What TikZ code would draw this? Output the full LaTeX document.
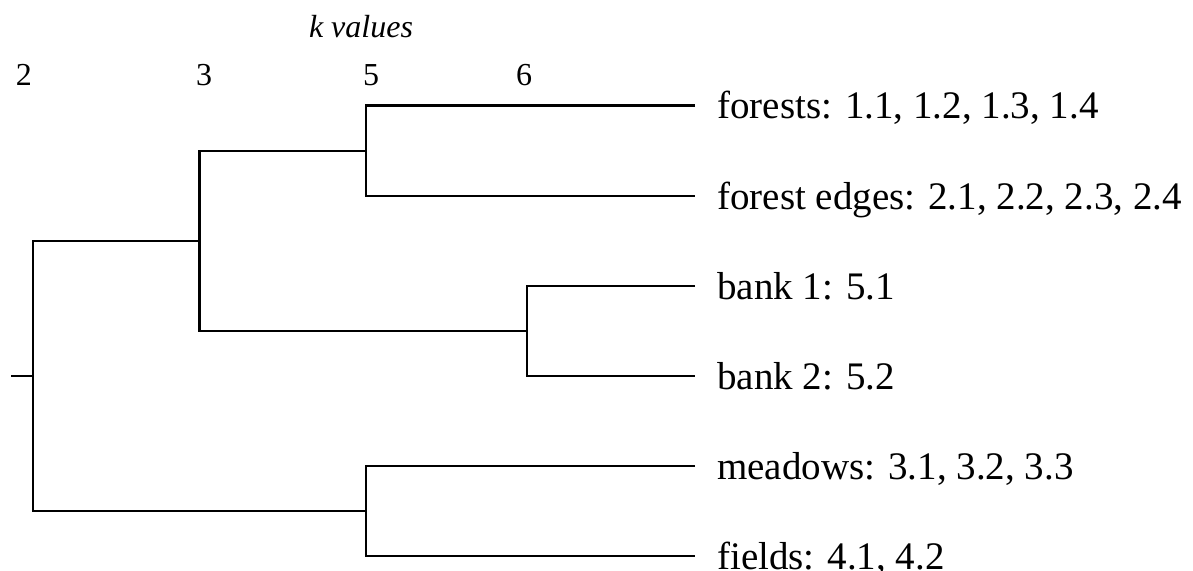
\documentclass[tikz,border=0pt]{standalone}
\usepackage{fontspec}
\setmainfont{Liberation Serif}
\begin{document}
\begin{tikzpicture}[x=1pt,y=-1pt,
  branch/.style={line width=2.1pt, line join=miter},
  leaf/.style={anchor=base west, inner sep=0pt, font=\fontsize{39}{45}\selectfont},
  klabel/.style={anchor=base, inner sep=0pt, font=\fontsize{32}{37}\selectfont}]
\useasboundingbox (0,0) rectangle (1193,570);
% internal nodes of the dendrogram
\coordinate (rs) at (11,376);
\coordinate (root) at (33,376);
\coordinate (c3) at (199.5,241);
\coordinate (c5a) at (366,151);
\coordinate (c6) at (527,331);
\coordinate (c5b) at (366,511);
% leaf ends
\coordinate (e1) at (695,105.5);
\coordinate (e2) at (695,196);
\coordinate (e3) at (695,286);
\coordinate (e4) at (695,376);
\coordinate (e5) at (695,466);
\coordinate (e6) at (695,556);
% branches
\draw[branch] (rs) -- (root);
\draw[branch] (c3) -| (root) |- (c5b);
\draw[branch] (c5a) -| (c3) |- (c6);
\draw[branch] (e1) -| (c5a) |- (e2);
\draw[branch] (e3) -| (c6) |- (e4);
\draw[branch] (e5) -| (c5b) |- (e6);
% leaf labels
\node[leaf] (l1) at (717,118.5) {forests: 1.1, 1.2, 1.3, 1.4};
\node[leaf] (l2) at (717,209) {forest edges: 2.1, 2.2, 2.3, 2.4};
\node[leaf] (l3) at (717,299) {bank 1: 5.1};
\node[leaf] (l4) at (717,389) {bank 2: 5.2};
\node[leaf] (l5) at (717,479) {meadows: 3.1, 3.2, 3.3};
\node[leaf] (l6) at (717,569) {fields: 4.1, 4.2};
% axis labels
\node[klabel] (kv) at (361,37) {\itshape k values};
\node[klabel] (k2) at (24,85) {2};
\node[klabel] (k3) at (204,85) {3};
\node[klabel] (k5) at (371,85) {5};
\node[klabel] (k6) at (524,85) {6};
\end{tikzpicture}
\end{document}
